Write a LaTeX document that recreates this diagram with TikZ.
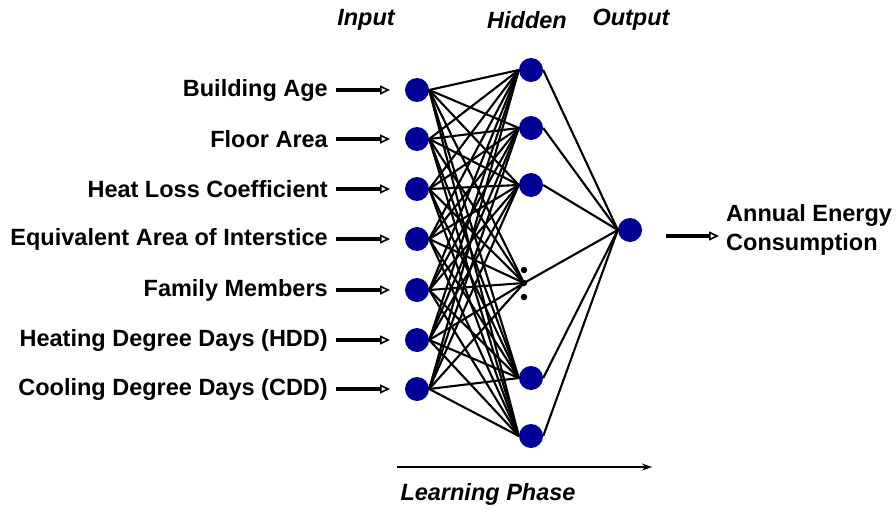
\documentclass[tikz,border=0pt]{standalone}
\usepackage{fontspec}
\setmainfont{Liberation Sans}
\usetikzlibrary{arrows.meta}
\definecolor{nodeblue}{RGB}{0,0,150}
\begin{document}
\begin{tikzpicture}[x=1pt,y=-1pt,
  neuron/.style={circle,fill=nodeblue,draw=none,minimum size=24pt,inner sep=0pt},
  dotnode/.style={circle,fill=black,minimum size=6.5pt,inner sep=0pt},
  conn/.style={line width=2.1pt},
  inarrow/.style={line width=3.6pt,-{Triangle[open,length=10pt,width=9pt,line width=1.6pt]}},
  lbl/.style={font=\fontsize{23.5}{28}\selectfont\bfseries,anchor=east,inner sep=0pt},
  hdr/.style={font=\fontsize{23.5}{28}\selectfont\bfseries\itshape,inner sep=0pt},
  outlbl/.style={font=\fontsize{23.5}{29}\selectfont\bfseries,align=left,anchor=west,inner sep=0pt}]
\useasboundingbox (0,0) rectangle (896,511);
% input nodes
\foreach \i/\y in {1/90,2/139,3/189,4/239,5/290,6/340,7/389}{
  \node[neuron] (in\i) at (417,\y) {};
}
% hidden nodes
\node[neuron] (h1) at (531,70) {};
\node[neuron] (h2) at (531,128) {};
\node[neuron] (h3) at (531,185) {};
\node[dotnode] (dA) at (524,270) {};
\node[dotnode] (hd) at (524,283) {};
\node[dotnode] (dB) at (524,297) {};
\node[neuron] (h4) at (531,378) {};
\node[neuron] (h5) at (531,436) {};
% output node
\node[neuron] (out) at (630,230) {};
% connections
\foreach \i in {1,...,7}{
  \foreach \h in {h1,h2,h3,h4,h5}{
    \draw[conn] (in\i.east) -- (\h.west);
  }
  \draw[conn] (in\i.east) -- (hd.center);
}
\foreach \h in {h1,h2,h3,h4,h5}{
  \draw[conn] (\h.east) -- (out.west);
}
\draw[conn] (hd.center) -- (out.west);
% input labels and arrows
\foreach \i/\y/\t in {1/90/Building Age,2/139/Floor Area,3/189/Heat Loss Coefficient,4/239/Equivalent Area of Interstice,5/290/Family Members,6/340/Heating Degree Days (HDD),7/389/Cooling Degree Days (CDD)}{
  \node[lbl] (l\i) at (328,\y) {\t};
  \coordinate (as\i) at (336,\y);
  \coordinate (ae\i) at (390,\y);
  \draw[inarrow] (as\i) -- (ae\i);
}
% output arrow and label
\coordinate (os) at (666,236);
\coordinate (oe) at (719,236);
\draw[inarrow] (os) -- (oe);
\node[outlbl] (ol) at (726,230) {Annual Energy\\Consumption};
% headers
\node[hdr] (hin) at (366,20) {Input};
\node[hdr] (hhid) at (527,20) {Hidden};
\node[hdr] (hout) at (631,20) {Output};
% learning phase
\coordinate (ls) at (397,467);
\coordinate (le) at (652,467);
\draw[line width=1.6pt,-{Stealth[length=10pt,width=7pt]}] (ls) -- (le);
\node[hdr] (lp) at (488,494) {Learning Phase};
\end{tikzpicture}
\end{document}
